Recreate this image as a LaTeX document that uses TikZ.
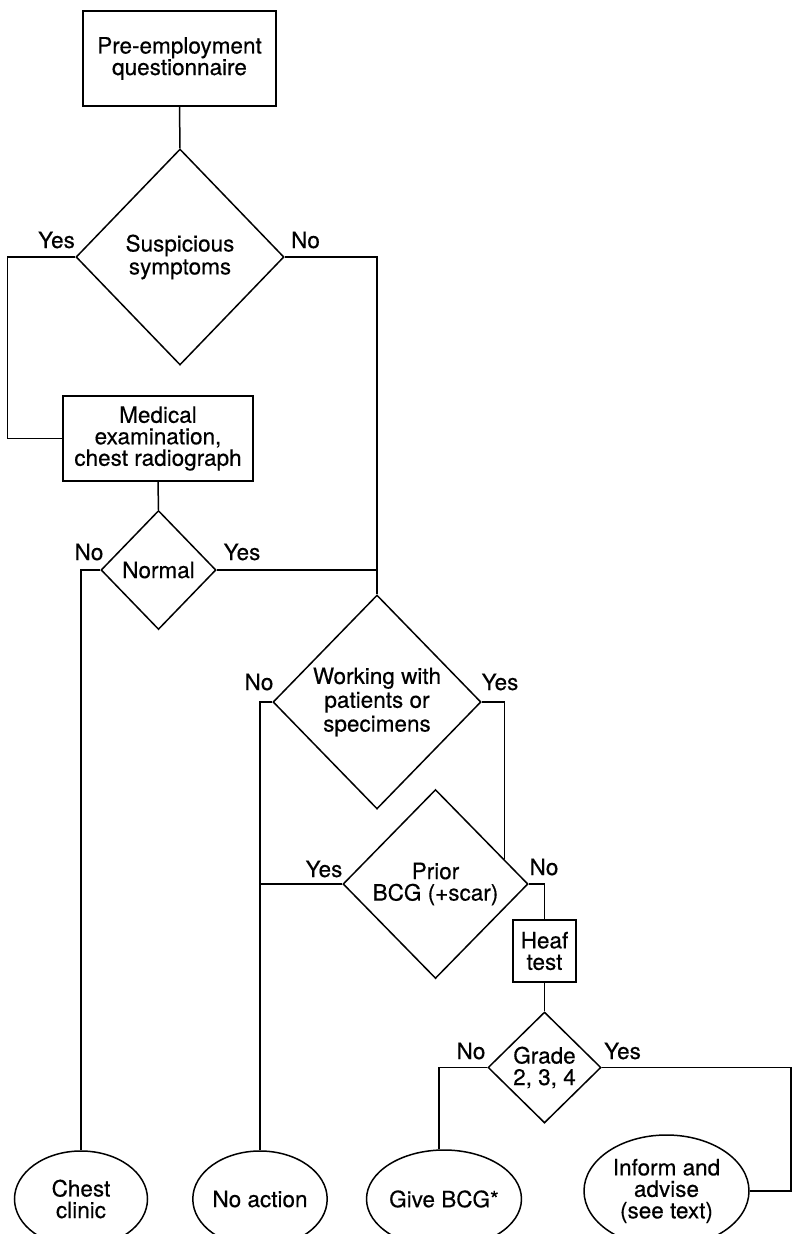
\documentclass[tikz,border=0pt]{standalone}
\usepackage{fontspec}
\setmainfont[FakeBold=0.4]{TeX Gyre Heros}
\usetikzlibrary{shapes.geometric,calc}
\begin{document}
\begin{tikzpicture}[x=1pt,y=-1pt,
  every node/.style={font=\fontsize{22.5}{21.5}\selectfont, align=center, inner sep=0pt},
  conn/.style={line width=1.5pt},
  box/.style={draw, line width=1.5pt, rectangle},
  dia/.style={draw, line width=1.5pt, diamond},
  oval/.style={draw, line width=1.5pt, ellipse},
  lab/.style={anchor=base}]
\useasboundingbox (0,0) rectangle (792,1234);
\clip (0,0) rectangle (792,1234);

% boxes
\node[box, minimum width=193pt, minimum height=95pt] (pre) at (179.5,58.5) {Pre-employment\\questionnaire};
\node[box, minimum width=190pt, minimum height=85pt] (med) at (158,438.5) {Medical\\examination,\\chest radiograph};
\node[box, minimum width=63pt, minimum height=62pt] (heaf) at (544.5,951) {Heaf\\test};

% decisions
\node[dia, minimum width=208pt, minimum height=216pt] (sus) at (180,257) {\raisebox{-4pt}{\shortstack{Suspicious\\symptoms}}};
\node[dia, minimum width=115pt, minimum height=119pt] (normal) at (158.5,570) {\raisebox{-3pt}{Normal}};
\node[dia, minimum width=208pt, minimum height=214pt] (work) at (377,702) {\raisebox{-6pt}{\shortstack{Working with\\patients or\\specimens}}};
\node[dia, minimum width=185pt, minimum height=189pt] (prior) at (435.5,884) {Prior\\BCG (+scar)};
\node[dia, minimum width=113pt, minimum height=111pt] (grade) at (544.5,1067.5) {Grade\\2, 3, 4};

% outcomes
\node[oval, minimum width=133pt, minimum height=96pt] (chest) at (81,1199) {Chest\\clinic};
\node[oval, minimum width=134pt, minimum height=96pt] (noact) at (260,1199) {No action};
\node[oval, minimum width=134pt, minimum height=98pt] (give) at (444,1199) {Give BCG*};
\node[oval, minimum width=165pt, minimum height=112pt] (inform) at (666.5,1191) {Inform and\\advise\\(see text)};

% labels
\node[lab] (l1) at (56.5,248) {Yes};
\node[lab] (l2) at (305.5,248) {No};
\node[lab] (l3) at (89,560) {No};
\node[lab] (l4) at (242,560) {Yes};
\node[lab] (l5) at (259,690) {No};
\node[lab] (l6) at (500,690) {Yes};
\node[lab] (l7) at (324,877) {Yes};
\node[lab] (l8) at (544,875) {No};
\node[lab] (l9) at (471,1059) {No};
\node[lab] (l10) at (622.5,1059) {Yes};

% connectors
\coordinate (pe) at ($(prior.north)!0.74!(prior.east)$);
\coordinate (rc) at (791,1067.5);
\draw[conn] (pre.south) -- (sus.north);
\draw[conn] (sus.west) -- ++(-68,0) |- (med.west);
\draw[conn] (sus.east) -| (work.north);
\draw[conn] (med.south) -- (normal.north);
\draw[conn] (normal.east) -- (normal.east -| work.north);
\draw[conn] (normal.west) -| (chest.north);
\draw[conn] (work.west) -| (noact.north);
\draw[conn] (prior.west) -- (prior.west -| noact.north);
\draw[conn] (work.east) -| (pe);
\draw[conn] (prior.east) -| (heaf.north);
\draw[conn] (heaf.south) -- (grade.north);
\draw[conn] (grade.west) -| ($(give.north)+(-5,0)$);
\draw[conn] (grade.east) -- (rc) |- (inform.east);
\end{tikzpicture}
\end{document}
